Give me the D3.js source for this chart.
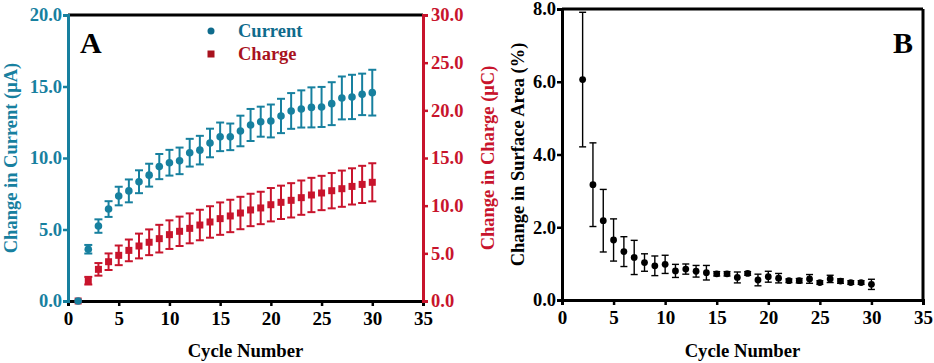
<!DOCTYPE html>
<html>
<head>
<meta charset="utf-8">
<script src="https://cdn.jsdelivr.net/npm/d3@7"></script>
<style>
  html, body { margin: 0; padding: 0; background: #fff; }
  svg { display: block; }
</style>
</head>
<body>
<div id="chart"></div>
<script>
// 循环次数 vs 电流/电荷变化（A）与表面积变化（B）
const cycles = [1, 2, 3, 4, 5, 6, 7, 8, 9, 10, 11, 12, 13, 14, 15, 16, 17, 18, 19, 20, 21, 22, 23, 24, 25, 26, 27, 28, 29, 30];
const currentMean = [0, 3.62, 5.24, 6.43, 7.34, 7.7, 8.34, 8.8, 9.4, 9.67, 9.8, 10.37, 10.55, 11.05, 11.48, 11.48, 11.89, 12.31, 12.54, 12.59, 12.94, 13.29, 13.43, 13.54, 13.57, 13.8, 14.2, 14.27, 14.45, 14.57];
const currentErr = [0, 0.3, 0.47, 0.55, 0.65, 0.8, 0.8, 0.8, 0.88, 0.9, 0.93, 0.97, 1.0, 1.0, 1.0, 0.93, 1.07, 1.12, 1.05, 1.15, 1.2, 1.25, 1.3, 1.4, 1.4, 1.5, 1.5, 1.55, 1.45, 1.6];
const chargeMean = [0, 2.13, 3.32, 4.12, 4.79, 5.31, 5.77, 6.16, 6.54, 6.96, 7.31, 7.62, 7.97, 8.29, 8.64, 8.92, 9.23, 9.55, 9.76, 10.1, 10.35, 10.56, 10.84, 11.12, 11.33, 11.57, 11.78, 12.02, 12.23, 12.45];
const chargeErr = [0, 0.4, 0.66, 0.87, 1.03, 1.14, 1.3, 1.35, 1.45, 1.5, 1.54, 1.57, 1.6, 1.65, 1.7, 1.7, 1.7, 1.7, 1.7, 1.75, 1.75, 1.8, 1.8, 1.8, 1.8, 1.85, 1.9, 1.9, 1.95, 2.0];

const areaCycles = [2, 3, 4, 5, 6, 7, 8, 9, 10, 11, 12, 13, 14, 15, 16, 17, 18, 19, 20, 21, 22, 23, 24, 25, 26, 27, 28, 29, 30];
const areaMean = [6.06, 3.17, 2.18, 1.65, 1.33, 1.17, 1.03, 0.94, 0.98, 0.8, 0.85, 0.79, 0.75, 0.72, 0.72, 0.62, 0.73, 0.55, 0.64, 0.6, 0.53, 0.53, 0.58, 0.48, 0.58, 0.52, 0.48, 0.48, 0.43];
const areaErr = [1.85, 1.15, 0.86, 0.58, 0.41, 0.47, 0.24, 0.27, 0.25, 0.18, 0.14, 0.16, 0.2, 0.06, 0.06, 0.15, 0.05, 0.16, 0.15, 0.13, 0.05, 0.06, 0.12, 0.05, 0.1, 0.06, 0.05, 0.05, 0.14];

const xTicks = [0, 5, 10, 15, 20, 25, 30, 35];
const currentTicks = [0, 5, 10, 15, 20];
const chargeTicks = [0, 5, 10, 15, 20, 25, 30];
const areaTicks = [0, 2, 4, 6, 8];

(() => {
  const W = 934, H = 363;
  const FONT = `"Liberation Serif", "Times New Roman", serif`;
  const TEAL = "#17809f", TEAL_D = "#0f6b8c", RED = "#c8142c", RED_D = "#a8121e", INK = "#000";

  const svg = d3.select("#chart").append("svg")
    .attr("width", W).attr("height", H).attr("viewBox", `0 0 ${W} ${H}`);

  const styleAxis = (g, color, size) => {
    g.select(".domain").attr("stroke", color).attr("stroke-width", 3);
    g.selectAll(".tick line").attr("stroke", color).attr("stroke-width", 2.5);
    g.selectAll(".tick text").attr("fill", color)
      .style("font-family", FONT).style("font-weight", "700").style("font-size", size + "px");
  };

  // ---------- A ----------
  const A = { L: 68, R: 423, T: 15, B: 301 };
  const xA = d3.scaleLinear().domain([0, 35]).range([A.L, A.R]);
  const yCur = d3.scaleLinear().domain([0, 20]).range([A.B, A.T]);
  const yChg = d3.scaleLinear().domain([0, 30]).range([A.B, A.T]);

  // 顶边框
  svg.append("line").attr("x1", A.L).attr("x2", A.R).attr("y1", A.T).attr("y2", A.T)
    .attr("stroke", INK).attr("stroke-width", 3);

  svg.append("g").attr("transform", `translate(0,${A.B})`)
    .call(d3.axisBottom(xA).tickValues(xTicks).tickSizeOuter(0).tickSize(5).tickPadding(6).tickFormat(d3.format("d")))
    .call(g => styleAxis(g, INK, 19));
  svg.append("g").attr("transform", `translate(${A.L},0)`)
    .call(d3.axisLeft(yCur).tickValues(currentTicks).tickSizeOuter(0).tickSize(5).tickPadding(1).tickFormat(d3.format(".1f")))
    .call(g => styleAxis(g, TEAL, 18.5));
  svg.append("g").attr("transform", `translate(${A.R},0)`)
    .call(d3.axisRight(yChg).tickValues(chargeTicks).tickSizeOuter(0).tickSize(5).tickPadding(3).tickFormat(d3.format(".1f")))
    .call(g => styleAxis(g, RED, 18.5));

  const cur = cycles.map((c, i) => ({ c, v: currentMean[i], e: currentErr[i] }));
  const chg = cycles.map((c, i) => ({ c, v: chargeMean[i], e: chargeErr[i] }));

  const errBars = (parent, data, x, y, color, cap, sw) => {
    const g = parent.append("g").attr("stroke", color).attr("stroke-width", sw).attr("fill", "none");
    data.filter(d => d.e > 0).forEach(d => {
      const cx = x(d.c), y1 = y(d.v + d.e), y2 = y(d.v - d.e);
      g.append("line").attr("x1", cx).attr("x2", cx).attr("y1", y1).attr("y2", y2);
      g.append("line").attr("x1", cx - cap).attr("x2", cx + cap).attr("y1", y1).attr("y2", y1);
      g.append("line").attr("x1", cx - cap).attr("x2", cx + cap).attr("y1", y2).attr("y2", y2);
    });
  };

  errBars(svg, chg, xA, yChg, RED, 4, 2);
  svg.append("g").selectAll("rect").data(chg).join("rect")
    .attr("x", d => xA(d.c) - 3.5).attr("y", d => yChg(d.v) - 3.5)
    .attr("width", 7).attr("height", 7).attr("fill", RED);

  errBars(svg, cur, xA, yCur, TEAL, 4, 2);
  svg.append("g").selectAll("circle").data(cur).join("circle")
    .attr("cx", d => xA(d.c)).attr("cy", d => yCur(d.v)).attr("r", 3.8).attr("fill", TEAL);

  // 图例
  svg.append("circle").attr("cx", 211).attr("cy", 31).attr("r", 3.5).attr("fill", TEAL_D);
  svg.append("rect").attr("x", 207.5).attr("y", 50.5).attr("width", 7).attr("height", 7).attr("fill", RED_D);
  svg.append("text").attr("x", 238).attr("y", 37)
    .attr("style", `font:700 18.5px ${FONT};fill:${TEAL_D}`).text("Current");
  svg.append("text").attr("x", 238).attr("y", 60)
    .attr("style", `font:700 18.5px ${FONT};fill:${RED_D}`).text("Charge");

  svg.append("text").attr("x", 80).attr("y", 53)
    .attr("style", `font:700 30px ${FONT};fill:${INK}`).text("A");

  // 轴标题
  svg.append("text").attr("transform", `translate(17,${(A.T + A.B) / 2}) rotate(-90)`)
    .attr("text-anchor", "middle")
    .attr("style", `font:700 18.5px ${FONT};fill:${TEAL}`).text("Change in Current (μA)");
  svg.append("text").attr("transform", `translate(494,${(A.T + A.B) / 2}) rotate(-90)`)
    .attr("text-anchor", "middle")
    .attr("style", `font:700 18.5px ${FONT};fill:${RED}`).text("Change in Charge (μC)");
  svg.append("text").attr("x", (A.L + A.R) / 2).attr("y", 357)
    .attr("text-anchor", "middle")
    .attr("style", `font:700 18.7px ${FONT};fill:${INK}`).text("Cycle Number");

  // ---------- B ----------
  const B = { L: 562, R: 923, T: 9, B: 300 };
  const xB = d3.scaleLinear().domain([0, 35]).range([B.L, B.R]);
  const yB = d3.scaleLinear().domain([0, 8]).range([B.B, B.T]);

  svg.append("line").attr("x1", B.L).attr("x2", B.R).attr("y1", B.T).attr("y2", B.T)
    .attr("stroke", INK).attr("stroke-width", 3);
  svg.append("line").attr("x1", B.R).attr("x2", B.R).attr("y1", B.T).attr("y2", B.B)
    .attr("stroke", INK).attr("stroke-width", 3);

  svg.append("g").attr("transform", `translate(0,${B.B})`)
    .call(d3.axisBottom(xB).tickValues(xTicks).tickSizeOuter(0).tickSize(5).tickPadding(6).tickFormat(d3.format("d")))
    .call(g => styleAxis(g, INK, 19));
  svg.append("g").attr("transform", `translate(${B.L},0)`)
    .call(d3.axisLeft(yB).tickValues(areaTicks).tickSizeOuter(0).tickSize(5).tickPadding(1).tickFormat(d3.format(".1f")))
    .call(g => styleAxis(g, INK, 18.5));

  const area = areaCycles.map((c, i) => ({ c, v: areaMean[i], e: areaErr[i] }));
  errBars(svg, area, xB, yB, INK, 3.5, 1.4);
  svg.append("g").selectAll("circle").data(area).join("circle")
    .attr("cx", d => xB(d.c)).attr("cy", d => yB(d.v)).attr("r", 3.4).attr("fill", INK);

  svg.append("text").attr("x", 913).attr("y", 53).attr("text-anchor", "end")
    .attr("style", `font:700 30px ${FONT};fill:${INK}`).text("B");
  svg.append("text").attr("transform", `translate(524,${(B.T + B.B) / 2}) rotate(-90)`)
    .attr("text-anchor", "middle")
    .attr("style", `font:700 18.5px ${FONT};fill:${INK}`).text("Change in Surface Area (%)");
  svg.append("text").attr("x", (B.L + B.R) / 2).attr("y", 357)
    .attr("text-anchor", "middle")
    .attr("style", `font:700 18.7px ${FONT};fill:${INK}`).text("Cycle Number");
})();
</script>
</body>
</html>
